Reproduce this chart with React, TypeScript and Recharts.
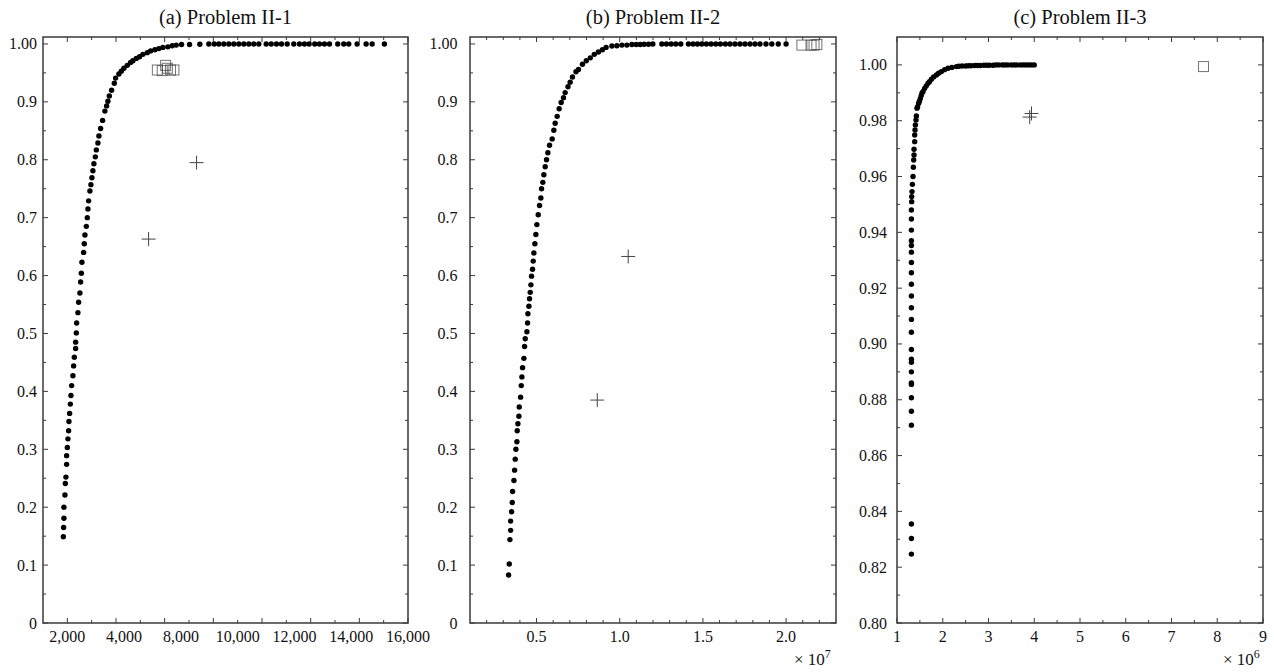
import React from 'react'
import { ScatterChart, Scatter, XAxis, YAxis, ReferenceArea } from 'recharts'

const SERIF = '"Liberation Serif", "Times New Roman", Times, serif'
const FRAME = '#3a3a3a'
const H = 672

// (a) Problem II-1: [evaluations, success rate]
const curveA = [
  [1836, 0.149], [1848, 0.165], [1860, 0.181], [1860, 0.2], [1901, 0.221], [1918, 0.241],
  [1942, 0.252], [1971, 0.274], [1971, 0.289], [2000, 0.303], [2025, 0.318], [2053, 0.332],
  [2066, 0.348], [2094, 0.362], [2123, 0.378], [2148, 0.393], [2177, 0.41], [2230, 0.427],
  [2259, 0.444], [2287, 0.459], [2341, 0.474], [2341, 0.485], [2370, 0.501], [2382, 0.518],
  [2435, 0.536], [2464, 0.554], [2517, 0.57], [2546, 0.589], [2575, 0.604], [2600, 0.623],
  [2669, 0.64], [2698, 0.655], [2723, 0.67], [2780, 0.685], [2821, 0.7], [2846, 0.715],
  [2875, 0.729], [2928, 0.746], [2969, 0.757], [3010, 0.769], [3051, 0.781], [3092, 0.793],
  [3150, 0.805], [3191, 0.817], [3257, 0.829], [3298, 0.841], [3368, 0.854], [3450, 0.868],
  [3544, 0.884], [3614, 0.893], [3667, 0.901], [3725, 0.91], [3819, 0.92], [3930, 0.932],
  [3984, 0.941], [4119, 0.948], [4218, 0.953], [4324, 0.958], [4464, 0.963], [4600, 0.968],
  [4694, 0.971], [4834, 0.975], [4969, 0.978], [5105, 0.982], [5285, 0.985], [5421, 0.988],
  [5598, 0.99], [5762, 0.992], [5926, 0.994], [6131, 0.995], [6312, 0.997], [6476, 0.998],
  [6694, 0.999], [7023, 0.999], [7446, 0.9995], [7815, 1], [8037, 1], [8226, 1], [8431, 1],
  [8637, 1], [8842, 1], [9047, 1], [9253, 1], [9458, 1], [9663, 1], [9869, 1], [10172, 1],
  [10378, 1], [10595, 1], [10801, 1], [11035, 1], [11306, 1], [11540, 1], [11745, 1],
  [11938, 1], [12168, 1], [12361, 1], [12567, 1], [12772, 1], [13113, 1], [13359, 1],
  [13565, 1], [13910, 1], [14279, 1], [14526, 1], [15031, 1],
]
const plusA = [[5340, 0.663], [7310, 0.795]]
const boxA = [[5700, 0.955], [5900, 0.954], [6110, 0.958], [6040, 0.963], [6240, 0.955], [6380, 0.955]]

// (b) Problem II-2: x in units of 1e7
const curveB = [
  [0.332, 0.083], [0.336, 0.102], [0.34, 0.144], [0.344, 0.16], [0.344, 0.176], [0.35, 0.192],
  [0.354, 0.208], [0.356, 0.227], [0.364, 0.246], [0.368, 0.264], [0.372, 0.283], [0.376, 0.3],
  [0.382, 0.313], [0.384, 0.332], [0.388, 0.344], [0.394, 0.357], [0.396, 0.373], [0.404, 0.39],
  [0.408, 0.41], [0.412, 0.425], [0.416, 0.441], [0.424, 0.457], [0.428, 0.4775], [0.432, 0.491],
  [0.442, 0.503], [0.446, 0.518], [0.448, 0.534], [0.454, 0.547], [0.458, 0.56], [0.462, 0.571],
  [0.466, 0.584], [0.47, 0.599], [0.476, 0.611], [0.48, 0.625], [0.484, 0.639], [0.49, 0.655],
  [0.496, 0.671], [0.502, 0.688], [0.51, 0.705], [0.518, 0.721], [0.526, 0.734], [0.53, 0.75],
  [0.538, 0.761], [0.544, 0.774], [0.552, 0.788], [0.56, 0.8], [0.568, 0.812], [0.578, 0.825],
  [0.594, 0.836], [0.604, 0.851], [0.612, 0.863], [0.624, 0.875], [0.636, 0.888], [0.648, 0.899],
  [0.662, 0.907], [0.672, 0.916], [0.689, 0.926], [0.702, 0.934], [0.716, 0.943], [0.737, 0.952],
  [0.752, 0.956], [0.776, 0.965], [0.799, 0.971], [0.823, 0.976], [0.847, 0.982], [0.872, 0.986],
  [0.896, 0.99], [0.918, 0.994], [0.953, 0.9965], [0.983, 0.997], [1.013, 0.998], [1.043, 0.998],
  [1.073, 0.999], [1.099, 0.999], [1.123, 0.999], [1.147, 0.9995], [1.173, 0.9995], [1.199, 1],
  [1.253, 1], [1.281, 1], [1.309, 1], [1.337, 1], [1.367, 1], [1.413, 1], [1.441, 1], [1.467, 1],
  [1.493, 1], [1.521, 1], [1.549, 1], [1.577, 1], [1.605, 1], [1.635, 1], [1.663, 1], [1.693, 1],
  [1.723, 1], [1.753, 1], [1.783, 1], [1.813, 1], [1.843, 1], [1.879, 1], [1.914, 1], [1.953, 1],
  [2.0, 1],
]
const plusB = [[1.051, 0.633], [0.865, 0.385]]
const boxB = [[2.095, 0.998], [2.15, 0.998], [2.168, 0.998], [2.185, 0.999]]

// (c) Problem II-3: x in units of 1e6
const curveC = [
  [1.315, 0.8247], [1.315, 0.8303], [1.315, 0.8355], [1.315, 0.8709], [1.315, 0.8759],
  [1.315, 0.8807], [1.315, 0.8855], [1.315, 0.886], [1.315, 0.89], [1.315, 0.8934],
  [1.315, 0.8945], [1.315, 0.898], [1.315, 0.9042], [1.315, 0.9088], [1.315, 0.913],
  [1.315, 0.9172], [1.315, 0.9214], [1.315, 0.9255], [1.315, 0.9292], [1.315, 0.9329],
  [1.315, 0.9353], [1.315, 0.937], [1.315, 0.9408], [1.315, 0.9448], [1.315, 0.948],
  [1.321, 0.951], [1.321, 0.9528], [1.328, 0.9546], [1.337, 0.9572], [1.35, 0.96],
  [1.358, 0.9633], [1.365, 0.9659], [1.372, 0.9677], [1.372, 0.9698], [1.387, 0.9725],
  [1.387, 0.9749], [1.394, 0.9767], [1.402, 0.9785], [1.416, 0.9803], [1.423, 0.9817],
  [1.437, 0.9845], [1.45, 0.985], [1.474, 0.9863], [1.49, 0.987], [1.511, 0.988], [1.53, 0.989],
  [1.546, 0.9899], [1.57, 0.9905], [1.605, 0.9916], [1.64, 0.9925], [1.678, 0.9934],
  [1.71, 0.994], [1.752, 0.9949], [1.8, 0.9957], [1.861, 0.9964], [1.91, 0.997], [1.97, 0.9976],
  [2.04, 0.9983], [2.115, 0.9988], [2.2, 0.9991], [2.298, 0.9994], [2.35, 0.9995],
  [2.42, 0.9996], [2.5, 0.9996], [2.56, 0.9997], [2.62, 0.9997], [2.7, 0.9998], [2.76, 0.9998],
  [2.82, 0.9998], [2.9, 0.9999], [2.96, 0.9999], [3.02, 0.9999], [3.1, 0.9999], [3.16, 1],
  [3.22, 1], [3.3, 1], [3.36, 1], [3.42, 1], [3.5, 1], [3.56, 1], [3.62, 1], [3.7, 1],
  [3.76, 1], [3.82, 1], [3.88, 1], [3.94, 1], [4.0, 1],
]
const plusC = [[3.9, 0.9813], [3.94, 0.9826]]
const boxC = [[7.7, 0.9994]]

// axis ticks and labels
const xMajorA = [2000, 4000, 6000, 8000, 10000, 12000, 14000, 16000]
const xMinorA = [3000, 5000, 7000, 9000, 11000, 13000, 15000]
const xLabelsA = ['2,000', '4,000', '8,000', '10,000', '12,000', '14,000', '16,000']

const xMajorB = [0.5, 1.0, 1.5, 2.0]
const xMinorB = [0.2, 0.3, 0.4, 0.6, 0.7, 0.8, 0.9, 1.1, 1.2, 1.3, 1.4, 1.6, 1.7, 1.8, 1.9, 2.1, 2.2]
const xLabelsB = ['0.5', '1.0', '1.5', '2.0']

const xMajorC = [1, 2, 3, 4, 5, 6, 7, 8, 9]
const xMinorC = [1.5, 2.5, 3.5, 4.5, 5.5, 6.5, 7.5, 8.5]
const xLabelsC = ['1', '2', '3', '4', '5', '6', '7', '8', '9']

const yMajorAB = [0, 0.1, 0.2, 0.3, 0.4, 0.5, 0.6, 0.7, 0.8, 0.9, 1.0]
const yMinorAB = [0.05, 0.15, 0.25, 0.35, 0.45, 0.55, 0.65, 0.75, 0.85, 0.95]
const yLabelsAB = ['0', '0.1', '0.2', '0.3', '0.4', '0.5', '0.6', '0.7', '0.8', '0.9', '1.00']

const yMajorC = [0.8, 0.82, 0.84, 0.86, 0.88, 0.9, 0.92, 0.94, 0.96, 0.98, 1.0]
const yMinorC = [0.81, 0.83, 0.85, 0.87, 0.89, 0.91, 0.93, 0.95, 0.97, 0.99]
const yLabelsC = ['0.80', '0.82', '0.84', '0.86', '0.88', '0.90', '0.92', '0.94', '0.96', '0.98', '1.00']

type TickDef = { v: number; len: number; text: string }

function makeTicks(major: number[], minor: number[], labels: string[], spread: boolean): TickDef[] {
  const defs: TickDef[] = [
    ...major.map((v) => ({ v, len: 5, text: '' })),
    ...minor.map((v) => ({ v, len: 3, text: '' })),
  ]
  const lo = major[0]
  const hi = major[major.length - 1]
  labels.forEach((text, i) => {
    const at = spread ? lo + ((hi - lo) * i) / (labels.length - 1) : major[i]
    const hit = defs.find((d) => Math.abs(d.v - at) < (hi - lo) * 1e-6)
    if (hit) hit.text = text
    else defs.push({ v: at, len: 0, text })
  })
  return defs.sort((a, b) => a.v - b.v)
}

const findTick = (defs: TickDef[], v: number) =>
  defs.find((d) => Math.abs(d.v - v) < 1e-9 * Math.max(1, Math.abs(v)))

const labelText = {
  fontFamily: SERIF,
  fontSize: 16,
  fill: '#111',
}

const bottomTick = (defs: TickDef[]) => (p: any) => {
  const d = findTick(defs, p.payload.value)
  if (!d) return <g />
  return (
    <g>
      {d.len > 0 && <line x1={p.x} x2={p.x} y1={p.y} y2={p.y - d.len} stroke={FRAME} strokeWidth={1} />}
      {d.text && (
        <text x={p.x} y={p.y + 19} textAnchor="middle" {...labelText}>
          {d.text}
        </text>
      )}
    </g>
  )
}

const topTick = (defs: TickDef[]) => (p: any) => {
  const d = findTick(defs, p.payload.value)
  if (!d || d.len === 0) return <g />
  return <line x1={p.x} x2={p.x} y1={p.y} y2={p.y + d.len} stroke={FRAME} strokeWidth={1} />
}

const leftTick = (defs: TickDef[], gap: number) => (p: any) => {
  const d = findTick(defs, p.payload.value)
  if (!d) return <g />
  return (
    <g>
      {d.len > 0 && <line x1={p.x} x2={p.x + d.len} y1={p.y} y2={p.y} stroke={FRAME} strokeWidth={1} />}
      {d.text && (
        <text x={p.x - gap} y={p.y + 5.5} textAnchor="end" {...labelText}>
          {d.text}
        </text>
      )}
    </g>
  )
}

const rightTick = (defs: TickDef[]) => (p: any) => {
  const d = findTick(defs, p.payload.value)
  if (!d || d.len === 0) return <g />
  return <line x1={p.x} x2={p.x - d.len} y1={p.y} y2={p.y} stroke={FRAME} strokeWidth={1} />
}

const dotShape = (p: any) => <circle cx={p.cx} cy={p.cy} r={2.7} fill="#000" />

const plusShape = (p: any) => (
  <g stroke="#444" strokeWidth={1}>
    <line x1={p.cx - 7} x2={p.cx + 7} y1={p.cy} y2={p.cy} />
    <line x1={p.cx} x2={p.cx} y1={p.cy - 7} y2={p.cy + 7} />
  </g>
)

const boxShape = (p: any) => (
  <rect x={p.cx - 5} y={p.cy - 5} width={10} height={10} fill="none" stroke="#444" strokeOpacity={0.75} strokeWidth={1} />
)

const toPts = (rows: number[][]) => rows.map(([x, y]) => ({ x, y }))

type PanelProps = {
  title: string
  left: number
  width: number
  yAxisW: number
  padRight: number
  labelGap: number
  xDomain: [number, number]
  yDomain: [number, number]
  xMajor: number[]
  xMinor: number[]
  xLabels: string[]
  spread?: boolean
  yMajor: number[]
  yMinor: number[]
  yLabels: string[]
  curve: number[][]
  plus: number[][]
  boxes: number[][]
  power?: string
  powerLeft?: number
}

function Panel(props: PanelProps) {
  const xt = makeTicks(props.xMajor, props.xMinor, props.xLabels, !!props.spread)
  const yt = makeTicks(props.yMajor, props.yMinor, props.yLabels, false)
  const xv = xt.map((t) => t.v)
  const yv = yt.map((t) => t.v)
  const plotW = props.width - props.yAxisW - props.padRight

  return (
    <div style={{ position: 'absolute', left: props.left, top: 0, width: props.width, height: H }}>
      <div
        style={{
          position: 'absolute',
          left: props.yAxisW,
          top: 5,
          width: plotW,
          textAlign: 'center',
          fontFamily: SERIF,
          fontSize: 20.5,
          lineHeight: '24px',
          color: '#111',
          zIndex: 2,
        }}
      >
        {props.title}
      </div>
      {props.power && (
        <div
          style={{
            position: 'absolute',
            left: props.powerLeft,
            top: 651,
            fontFamily: SERIF,
            fontSize: 17,
            lineHeight: '17px',
            whiteSpace: 'nowrap',
            color: '#111',
            zIndex: 2,
          }}
        >
          × 10<span style={{ fontSize: 12, position: 'relative', top: -7 }}>{props.power}</span>
        </div>
      )}
      <ScatterChart
        width={props.width}
        height={H}
        margin={{ top: 36, right: props.padRight - 1, bottom: 0, left: 0 }}
      >
        <XAxis
          xAxisId="b"
          type="number"
          dataKey="x"
          domain={props.xDomain}
          allowDataOverflow
          ticks={xv}
          interval={0}
          tickSize={0}
          tickMargin={0}
          tickLine={false}
          axisLine={false}
          height={49}
          tick={bottomTick(xt)}
        />
        <XAxis
          xAxisId="t"
          orientation="top"
          type="number"
          dataKey="x"
          domain={props.xDomain}
          allowDataOverflow
          ticks={xv}
          interval={0}
          tickSize={0}
          tickMargin={0}
          tickLine={false}
          axisLine={false}
          height={1}
          tick={topTick(xt)}
        />
        <YAxis
          yAxisId="l"
          type="number"
          dataKey="y"
          domain={props.yDomain}
          allowDataOverflow
          ticks={yv}
          interval={0}
          tickSize={0}
          tickMargin={0}
          tickLine={false}
          axisLine={false}
          width={props.yAxisW}
          tick={leftTick(yt, props.labelGap)}
        />
        <YAxis
          yAxisId="r"
          orientation="right"
          type="number"
          dataKey="y"
          domain={props.yDomain}
          allowDataOverflow
          ticks={yv}
          interval={0}
          tickSize={0}
          tickMargin={0}
          tickLine={false}
          axisLine={false}
          width={1}
          tick={rightTick(yt)}
        />
        <ReferenceArea
          xAxisId="b"
          yAxisId="l"
          x1={props.xDomain[0]}
          x2={props.xDomain[1]}
          y1={props.yDomain[0]}
          y2={props.yDomain[1]}
          fill="none"
          stroke={FRAME}
          strokeWidth={1.5}
          ifOverflow="visible"
        />
        <Scatter xAxisId="b" yAxisId="l" data={toPts(props.boxes)} shape={boxShape} isAnimationActive={false} />
        <Scatter xAxisId="b" yAxisId="l" data={toPts(props.plus)} shape={plusShape} isAnimationActive={false} />
        <Scatter xAxisId="b" yAxisId="l" data={toPts(props.curve)} shape={dotShape} isAnimationActive={false} />
      </ScatterChart>
    </div>
  )
}

export default function App() {
  return (
    <div style={{ position: 'absolute', left: 0, top: 0, width: 1274, height: H, background: '#fff' }}>
      <Panel
        title="(a) Problem II-1"
        left={0}
        width={440}
        yAxisW={43}
        padRight={32}
        labelGap={6}
        xDomain={[1000, 16000]}
        yDomain={[0, 1.012]}
        xMajor={xMajorA}
        xMinor={xMinorA}
        xLabels={xLabelsA}
        spread
        yMajor={yMajorAB}
        yMinor={yMinorAB}
        yLabels={yLabelsAB}
        curve={curveA}
        plus={plusA}
        boxes={boxA}
      />
      <Panel
        title="(b) Problem II-2"
        left={425}
        width={425}
        yAxisW={45}
        padRight={14}
        labelGap={12.5}
        xDomain={[0.1, 2.3]}
        yDomain={[0, 1.012]}
        xMajor={xMajorB}
        xMinor={xMinorB}
        xLabels={xLabelsB}
        yMajor={yMajorAB}
        yMinor={yMinorAB}
        yLabels={yLabelsAB}
        curve={curveB}
        plus={plusB}
        boxes={boxB}
        power="7"
        powerLeft={369}
      />
      <Panel
        title="(c) Problem II-3"
        left={850}
        width={424}
        yAxisW={47}
        padRight={11}
        labelGap={10}
        xDomain={[1, 9]}
        yDomain={[0.8, 1.01]}
        xMajor={xMajorC}
        xMinor={xMinorC}
        xLabels={xLabelsC}
        yMajor={yMajorC}
        yMinor={yMinorC}
        yLabels={yLabelsC}
        curve={curveC}
        plus={plusC}
        boxes={boxC}
        power="6"
        powerLeft={373}
      />
    </div>
  )
}
